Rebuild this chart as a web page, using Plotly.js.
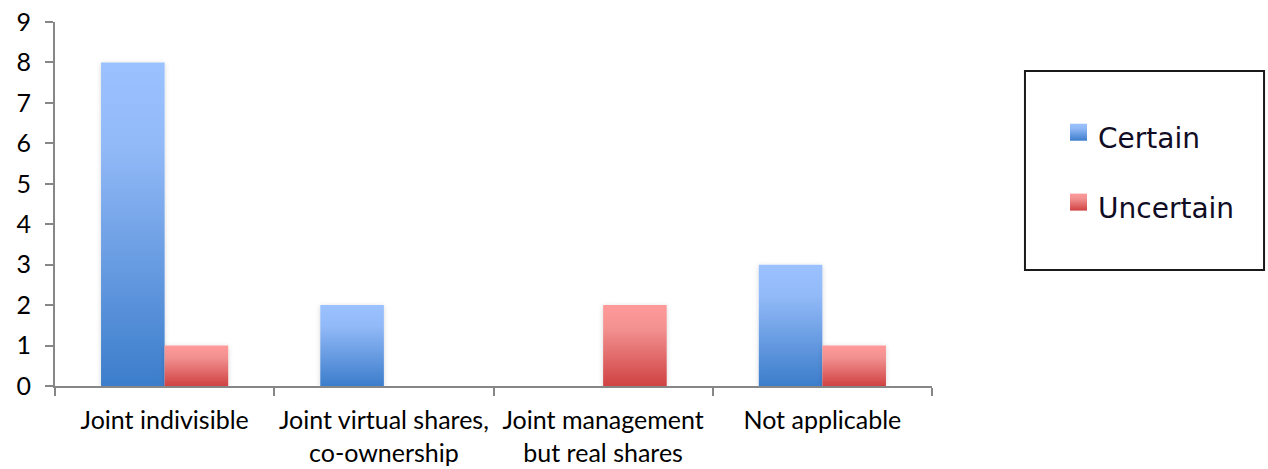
<!DOCTYPE html>
<html>
<head>
<meta charset="utf-8">
<script src="https://cdn.plot.ly/plotly-3.0.1.min.js"></script>
<style>
  html, body { margin: 0; padding: 0; background: #ffffff; }
  #chart { width: 1268px; height: 469px; }
</style>
</head>
<body>
<div id="chart"></div>
<script>
// Categories and counts per answer type
const categories = [
  'Joint indivisible',
  'Joint virtual shares,<br>co-ownership',
  'Joint management<br>but real shares',
  'Not applicable'
];
const certainCounts = [8, 2, 0, 3];
const uncertainCounts = [1, 0, 2, 1];
const seriesNames = ['Certain', 'Uncertain'];
const yTickValues = [0, 1, 2, 3, 4, 5, 6, 7, 8, 9];

const axisGrey = '#868686';
const tickFont = { family: 'Lato, "Open Sans", sans-serif', size: 25, color: '#000000' };

const traces = [
  {
    type: 'bar', name: seriesNames[0], x: categories, y: certainCounts,
    marker: { color: '#6A9DE6', line: { width: 0 } },
    legend: 'legend', hoverinfo: 'x+y'
  },
  {
    type: 'bar', name: seriesNames[1], x: categories, y: uncertainCounts,
    marker: { color: '#E87070', line: { width: 0 } },
    legend: 'legend2', hoverinfo: 'x+y'
  }
];

const legendFont = { family: '"DejaVu Sans", sans-serif', size: 28, color: '#100c24' };

const layout = {
  width: 1268, height: 469,
  margin: { l: 55, r: 336, t: 22, b: 83, autoexpand: false },
  paper_bgcolor: '#ffffff', plot_bgcolor: '#ffffff',
  barmode: 'group', bargap: 0.42, bargroupgap: 0,
  showlegend: true,
  xaxis: {
    type: 'category', tickangle: 0,
    showline: true, linecolor: axisGrey, linewidth: 2,
    ticks: 'outside', tickson: 'boundaries', ticklen: 8, tickwidth: 2, tickcolor: axisGrey,
    tickfont: tickFont, ticklabelstandoff: 11,
    showgrid: false, zeroline: false, fixedrange: true
  },
  yaxis: {
    range: [0, 9], tickvals: yTickValues,
    showline: true, linecolor: axisGrey, linewidth: 2,
    ticks: 'outside', ticklen: 8, tickwidth: 2, tickcolor: axisGrey,
    tickfont: tickFont, ticklabelstandoff: 9,
    showgrid: false, zeroline: false, fixedrange: true
  },
  legend: {
    x: 1.1437, xanchor: 'left', y: 0.684, yanchor: 'middle',
    bgcolor: 'rgba(0,0,0,0)', borderwidth: 0, font: legendFont
  },
  legend2: {
    x: 1.1437, xanchor: 'left', y: 0.492, yanchor: 'middle',
    bgcolor: 'rgba(0,0,0,0)', borderwidth: 0, font: legendFont
  },
  shapes: [
    {
      type: 'rect', xref: 'paper', yref: 'paper',
      x0: 1.106, x1: 1.3786, y0: 0.3187, y1: 0.8654,
      line: { color: '#1a1a1a', width: 2 }, fillcolor: 'rgba(0,0,0,0)', layer: 'below'
    }
  ]
};

// Vertical gradients and a soft shadow, Office style
function addDefs(gd) {
  const svg = gd.querySelector('svg.main-svg');
  const ns = 'http://www.w3.org/2000/svg';
  let defs = svg.querySelector('defs');
  if (!defs) { defs = document.createElementNS(ns, 'defs'); svg.insertBefore(defs, svg.firstChild); }
  const grads = {
    gradCertain: [[0, '#9BC1FF'], [0.25, '#93BAF8'], [1, '#3C7DCB']],
    gradUncertain: [[0, '#FF9A9A'], [0.3, '#F29090'], [1, '#D04242']]
  };
  Object.keys(grads).forEach(id => {
    const g = document.createElementNS(ns, 'linearGradient');
    g.setAttribute('id', id);
    g.setAttribute('x1', '0'); g.setAttribute('y1', '0');
    g.setAttribute('x2', '0'); g.setAttribute('y2', '1');
    grads[id].forEach(([off, col]) => {
      const s = document.createElementNS(ns, 'stop');
      s.setAttribute('offset', off);
      s.setAttribute('stop-color', col);
      g.appendChild(s);
    });
    defs.appendChild(g);
  });
  const f = document.createElementNS(ns, 'filter');
  f.setAttribute('id', 'barShadow');
  f.setAttribute('x', '-30%'); f.setAttribute('y', '-10%');
  f.setAttribute('width', '160%'); f.setAttribute('height', '130%');
  const ds = document.createElementNS(ns, 'feDropShadow');
  ds.setAttribute('dx', '0'); ds.setAttribute('dy', '1');
  ds.setAttribute('stdDeviation', '2.5');
  ds.setAttribute('flood-color', '#000000');
  ds.setAttribute('flood-opacity', '0.16');
  f.appendChild(ds);
  defs.appendChild(f);
}

function applyFills(gd) {
  const ids = ['gradCertain', 'gradUncertain'];
  gd.querySelectorAll('.barlayer .trace.bars').forEach((tr, i) => {
    tr.querySelectorAll('.point path').forEach(p => {
      p.style.fill = 'url(#' + ids[i] + ')';
      p.setAttribute('filter', 'url(#barShadow)');
    });
  });
  // larger legend swatches with the same gradients
  gd.querySelectorAll('.legendpoints path').forEach(p => {
    const name = p.closest('.traces').textContent;
    p.setAttribute('d', 'M9,4H-8V-13H9Z');
    p.style.fill = 'url(#' + (name.indexOf('Uncertain') >= 0 ? ids[1] : ids[0]) + ')';
  });
}

const gd = document.getElementById('chart');
Plotly.newPlot(gd, traces, layout, { displayModeBar: false, staticPlot: true }).then(() => {
  addDefs(gd);
  applyFills(gd);
});
</script>
</body>
</html>
